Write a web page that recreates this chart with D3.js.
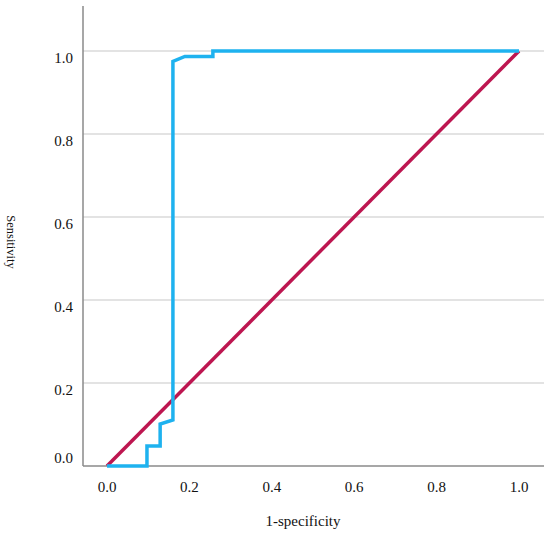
<!DOCTYPE html>
<html><head><meta charset="utf-8">
<script src="https://cdn.jsdelivr.net/npm/d3@7"></script>
<style>body{margin:0;background:#fff}text{font-family:"Liberation Serif","DejaVu Serif",serif}</style>
</head><body><svg id="c" width="550" height="538"></svg>
<script>
const xTicks = [0, 0.2, 0.4, 0.6, 0.8, 1.0];
const yTicks = [0, 0.2, 0.4, 0.6, 0.8, 1.0];
const rocX = [0, 0.097, 0.097, 0.129, 0.129, 0.160, 0.160, 0.189, 0.257, 0.257, 1.0];
const rocY = [0, 0, 0.048, 0.048, 0.101, 0.111, 0.975, 0.987, 0.987, 1.0, 1.0];
const refX = [0, 1];
const refY = [0, 1];

const svg = d3.select("#c");
const x = d3.scaleLinear().domain([0, 1]).range([107, 519]);
const y = d3.scaleLinear().domain([0, 1]).range([466, 51]);
const axL = 83, axR = 544, axT = 6, axB = 466;

svg.append("g").selectAll("line").data(yTicks.filter(d => d > 0)).join("line")
  .attr("x1", axL).attr("x2", axR).attr("y1", d => y(d)).attr("y2", d => y(d))
  .attr("stroke", "#c8c8c8").attr("stroke-width", 1.2);

svg.append("line").attr("x1", axL).attr("x2", axL).attr("y1", axT).attr("y2", axB)
  .attr("stroke", "#8a8a8a").attr("stroke-width", 1.5);
svg.append("line").attr("x1", axL).attr("x2", axR).attr("y1", axB).attr("y2", axB)
  .attr("stroke", "#8a8a8a").attr("stroke-width", 1.5);

const fmt = d3.format(".1f");
svg.append("g").selectAll("text").data(yTicks).join("text")
  .attr("x", 73).attr("y", d => y(d) + 7 + (d === 0 ? -15 : 0)).attr("dy", "0.35em")
  .attr("text-anchor", "end").attr("font-size", 15).attr("fill", "#111")
  .text(fmt);
svg.append("g").selectAll("text").data(xTicks).join("text")
  .attr("x", d => x(d)).attr("y", 487).attr("dy", "0.35em")
  .attr("text-anchor", "middle").attr("font-size", 15).attr("fill", "#111")
  .text(fmt);

svg.append("text").attr("x", 303).attr("y", 521).attr("dy", "0.35em")
  .attr("text-anchor", "middle").attr("font-size", 15).attr("fill", "#111").text("1-specificity");
svg.append("text").attr("transform", "translate(11,242) rotate(90)").attr("dy", "0.35em")
  .attr("text-anchor", "middle").attr("font-size", 12.5).attr("fill", "#111").text("Sensitivity");

const line = d3.line().x(d => x(d[0])).y(d => y(d[1]));
svg.append("path").datum(refX.map((v, i) => [v, refY[i]]))
  .attr("d", line).attr("fill", "none").attr("stroke", "#bd1650").attr("stroke-width", 3.5);
svg.append("path").datum(rocX.map((v, i) => [v, rocY[i]]))
  .attr("d", line).attr("fill", "none").attr("stroke", "#1eb2ef").attr("stroke-width", 3.5)
  .attr("stroke-linejoin", "miter");
</script></body></html>
